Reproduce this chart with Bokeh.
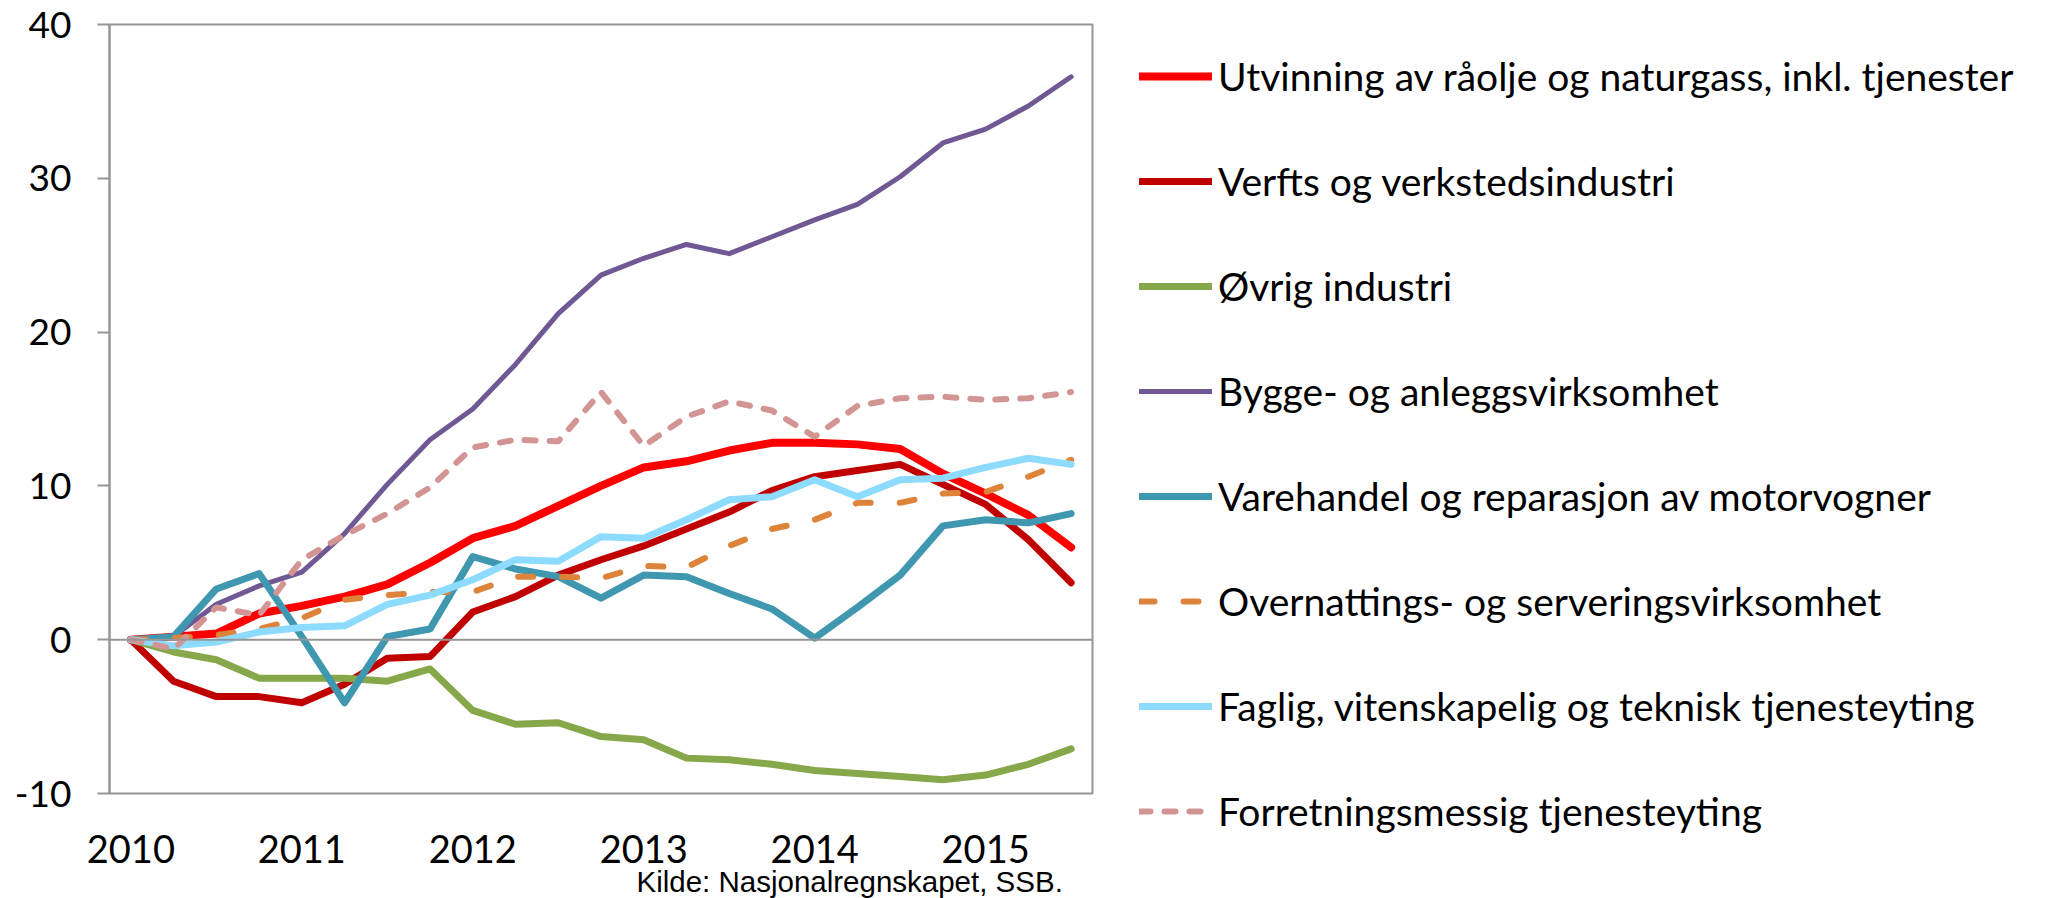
from bokeh.plotting import figure
from bokeh.layouts import column, row
from bokeh.models import FixedTicker, Span, Legend, LegendItem, Label, Range1d
from bokeh.embed import file_html
from bokeh.resources import INLINE

# ---- data (quarterly, 2010K1 .. 2015K3), percent change since 2010K1 ----
quarters = list(range(23))
year_tick_pos = [0, 4, 8, 12, 16, 20]
year_labels = ["2010", "2011", "2012", "2013", "2014", "2015"]
y_ticks = [-10, 0, 10, 20, 30, 40]

names = [
    "Utvinning av råolje og naturgass, inkl. tjenester",
    "Verfts og verkstedsindustri",
    "Øvrig industri",
    "Bygge- og anleggsvirksomhet",
    "Varehandel og reparasjon av motorvogner",
    "Overnattings- og serveringsvirksomhet",
    "Faglig, vitenskapelig og teknisk tjenesteyting",
    "Forretningsmessig tjenesteyting",
]

utvinning = [0, 0.2, 0.4, 1.7, 2.2, 2.8, 3.6, 5.0, 6.6, 7.4, 8.7, 10.0, 11.2, 11.6,
             12.3, 12.8, 12.8, 12.7, 12.4, 10.8, 9.5, 8.1, 6.0]
verft = [0, -2.7, -3.7, -3.7, -4.1, -2.9, -1.2, -1.1, 1.8, 2.8, 4.2, 5.2, 6.1, 7.2,
         8.3, 9.7, 10.6, 11.0, 11.4, 10.1, 8.8, 6.5, 3.7]
ovrig = [0, -0.8, -1.3, -2.5, -2.5, -2.5, -2.7, -1.9, -4.6, -5.5, -5.4, -6.3, -6.5, -7.7,
         -7.8, -8.1, -8.5, -8.7, -8.9, -9.1, -8.8, -8.1, -7.1]
bygg = [0, 0.2, 2.3, 3.5, 4.4, 6.9, 10.1, 13.0, 15.0, 17.9, 21.2, 23.7, 24.8, 25.7,
        25.1, 26.2, 27.3, 28.3, 30.1, 32.3, 33.2, 34.7, 36.6]
varehandel = [0, 0.2, 3.3, 4.3, 0.2, -4.1, 0.2, 0.7, 5.4, 4.6, 4.1, 2.7, 4.2, 4.1,
              3.0, 2.0, 0.1, 2.1, 4.2, 7.4, 7.8, 7.6, 8.2]
overnatting = [0, 0.1, 0.3, 0.7, 1.4, 2.6, 2.9, 3.1, 3.1, 4.1, 4.1, 4.0, 4.8, 4.7,
               6.1, 7.2, 7.8, 8.9, 8.9, 9.5, 9.6, 10.6, 11.7]
faglig = [0, -0.4, -0.15, 0.5, 0.8, 0.9, 2.3, 2.9, 3.9, 5.2, 5.1, 6.7, 6.6, 7.8,
          9.1, 9.3, 10.4, 9.3, 10.4, 10.5, 11.2, 11.8, 11.4]
forretning = [0, -0.6, 2.1, 1.6, 5.2, 6.8, 8.2, 9.9, 12.5, 13.0, 12.9, 16.1, 12.6, 14.5,
              15.5, 14.9, 13.2, 15.2, 15.7, 15.8, 15.6, 15.7, 16.1]

series = [utvinning, verft, ovrig, bygg, varehandel, overnatting, faglig, forretning]
colors = ["#FF0000", "#C00000", "#86A84A", "#6F5893", "#4097B0", "#DE843A", "#8DDCFF", "#D39494"]
widths = [8, 7, 7, 5, 7, 6, 7, 6]
dashes = ["solid", "solid", "solid", "solid", "solid", "15 29", "solid", "11 14"]

source_text = "Kilde: Nasjonalregnskapet, SSB."

FONT = "Lato"
GRAY = "#969696"


def clean(fig):
    fig.background_fill_color = "white"
    fig.border_fill_color = "white"
    fig.grid.visible = False


# ---------------- main chart ----------------
P_H = 813
p = figure(width=1110, height=P_H, output_backend="svg", toolbar_location=None,
           x_range=Range1d(-0.5, 22.5), y_range=Range1d(-10, 40), x_axis_location=None,
           min_border_left=109, min_border_right=18, min_border_top=24, min_border_bottom=20)
clean(p)
p.outline_line_color = GRAY
p.outline_line_width = 2

p.yaxis.ticker = FixedTicker(ticks=y_ticks)
p.yaxis.major_label_overrides = {t: str(t) for t in y_ticks}
p.yaxis.axis_line_color = GRAY
p.yaxis.axis_line_width = 2
p.yaxis.major_tick_line_color = GRAY
p.yaxis.major_tick_line_width = 2
p.yaxis.major_tick_out = 12
p.yaxis.major_tick_in = 0
p.yaxis.minor_tick_line_color = None
p.yaxis.major_label_text_font = FONT
p.yaxis.major_label_text_font_size = "37px"
p.yaxis.major_label_text_color = "black"
p.yaxis.major_label_standoff = 26

p.add_layout(Span(location=0, dimension="width", line_color=GRAY, line_width=2))

for vals, c, w, d in zip(series, colors, widths, dashes):
    p.line(quarters, vals, line_color=c, line_width=w, line_dash=d,
           line_join="round", line_cap="round")

# ---------------- strip under the chart: year axis + source ----------------
S_H = 898 - P_H
S_TOP = 862 - P_H
s = figure(width=1110, height=S_H, output_backend="svg", toolbar_location=None,
           x_range=p.x_range, y_range=Range1d(0, S_H - S_TOP),
           x_axis_location="above", y_axis_location=None,
           min_border_left=0, min_border_right=0, min_border_top=S_TOP, min_border_bottom=0)
clean(s)
s.outline_line_color = None
s.xaxis.ticker = FixedTicker(ticks=year_tick_pos)
s.xaxis.major_label_overrides = {t: l for t, l in zip(year_tick_pos, year_labels)}
s.xaxis.axis_line_color = None
s.xaxis.major_tick_line_color = None
s.xaxis.major_tick_out = 0
s.xaxis.major_tick_in = 0
s.xaxis.minor_tick_line_color = None
s.xaxis.minor_tick_out = 0
s.xaxis.major_label_text_font = FONT
s.xaxis.major_label_text_font_size = "38px"
s.xaxis.major_label_text_color = "black"
s.xaxis.major_label_standoff = 0
s.add_layout(Label(x=-0.5 + (636 - 109) / 42.74, y=17, text=source_text,
                   text_font="Liberation Sans", text_font_size="29.5px",
                   text_color="black", text_baseline="alphabetic"))

# ---------------- legend panel ----------------
L = figure(width=939, height=898, output_backend="svg", toolbar_location=None,
           x_range=Range1d(1000, 1001), y_range=Range1d(1000, 1001),
           x_axis_location=None, y_axis_location=None,
           min_border_left=0, min_border_right=0, min_border_top=0, min_border_bottom=0)
clean(L)
L.outline_line_color = None
items = []
for name, vals, c, w, d in zip(names, series, colors, widths, dashes):
    # same series, drawn out of this panel's view: used only as legend swatches
    r = L.line(quarters, vals, line_color=c, line_width=w, line_dash=d,
               line_join="round", line_cap="round")
    items.append(LegendItem(label=name, renderers=[r]))
legend = Legend(items=items, location=(29, 62), orientation="vertical",
                glyph_width=73, glyph_height=50, label_height=50, spacing=55,
                label_standoff=6, padding=0, margin=0,
                border_line_color=None, background_fill_alpha=0,
                label_text_font=FONT, label_text_font_size="39px",
                label_text_color="black", label_text_baseline="middle")
L.add_layout(legend)

layout = row(column(p, s, spacing=0), L, spacing=0)
open("out.html", "w").write(file_html(layout, INLINE))
